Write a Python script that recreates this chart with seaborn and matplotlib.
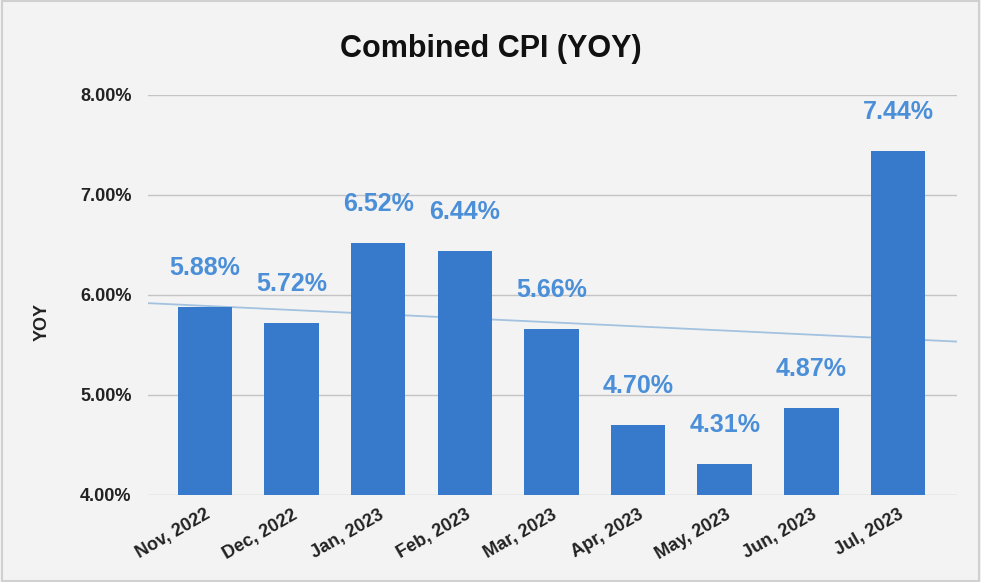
import numpy as np
import pandas as pd
import matplotlib
matplotlib.use("Agg")
import matplotlib.pyplot as plt
import seaborn as sns
from matplotlib.patches import Rectangle

months = ["Nov, 2022", "Dec, 2022", "Jan, 2023", "Feb, 2023", "Mar, 2023",
          "Apr, 2023", "May, 2023", "Jun, 2023", "Jul, 2023"]
yoy = [5.88, 5.72, 6.52, 6.44, 5.66, 4.70, 4.31, 4.87, 7.44]
yticks = [4.0, 5.0, 6.0, 7.0, 8.0]

bg = "#f3f3f3"
bar_color = "#3779cb"
label_color = "#4a8fd8"

sns.set_theme(style="white")
plt.rcParams["font.family"] = ["Liberation Sans", "DejaVu Sans"]

df = pd.DataFrame({"month": months, "yoy": yoy})

fig = plt.figure(figsize=(9.81, 5.82), dpi=100, facecolor=bg)
ax = fig.add_axes([0.151, 0.1495, 0.8245, 0.6873])
ax.set_facecolor(bg)
fig.patches.append(Rectangle((0.002, 0.002), 0.996, 0.996, transform=fig.transFigure,
                             fill=False, edgecolor="#d0d0d0", linewidth=1.5))

for y in yticks:
    ax.axhline(y, color="#c4c4c4", linewidth=1, zorder=0)

sns.barplot(data=df, x="month", y="yoy", color=bar_color, width=0.63,
            saturation=1, linewidth=0, ax=ax, zorder=2)

# linear trendline
xs = np.arange(len(yoy))
slope, intercept = np.polyfit(xs, yoy, 1)
xl = np.array([-0.655, len(yoy) - 1 + 0.68])
ax.plot(xl, slope * xl + intercept, color="#a3c2e0", linewidth=1.3, zorder=1)

for i, v in enumerate(yoy):
    ax.text(i, v + 0.27, f"{v:.2f}%", ha="center", va="bottom", color=label_color,
            fontsize=18, fontweight="bold")

ax.set_xlim(-0.655, len(yoy) - 1 + 0.68)
ax.set_ylim(4.0, 8.0)
ax.set_yticks(yticks)
ax.set_yticklabels([f"{t:.2f}%" for t in yticks], fontsize=13, fontweight="bold", color="#222222")
ax.set_xticks(xs)
ax.set_xticklabels(months, rotation=30, ha="right", rotation_mode="anchor",
                   fontsize=13, fontweight="bold", color="#222222")
ax.tick_params(axis="y", length=0, pad=12)
ax.tick_params(axis="x", length=0, pad=8)
for s in ax.spines.values():
    s.set_visible(False)

ax.set_xlabel("")
ax.set_ylabel("")
fig.text(0.043, 0.447, "YOY", rotation=90, ha="center", va="center",
         fontsize=13, fontweight="bold", color="#222222")
fig.text(0.5, 0.915, "Combined CPI (YOY)", ha="center", va="center",
         fontsize=22, fontweight="bold", color="#111111")

fig.savefig("out.png", dpi=100, facecolor=bg)
